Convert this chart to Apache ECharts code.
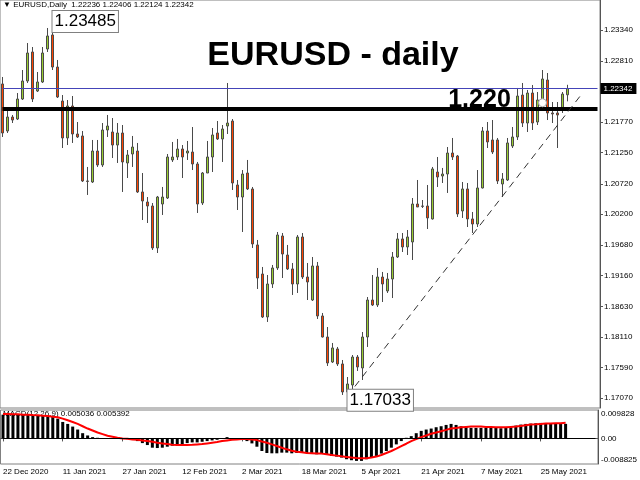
<!DOCTYPE html>
<html>
<head>
<meta charset="utf-8">
<style>html,body{margin:0;padding:0;background:#fff}#c{width:640px;height:480px}</style>
<script src="https://cdn.jsdelivr.net/npm/echarts@6/dist/echarts.min.js"></script>
</head>
<body>
<div id="c"></div>
<script>
// ---- data ----
const opens = [
1.22420,1.21619,1.21857,1.21823,1.22164,1.22471,1.22965,1.22300,1.22454,1.23016,
1.23255,1.22709,1.22130,1.21500,1.22045,1.21568,1.21534,1.20767,1.20750,1.21278,
1.21040,1.21636,1.21602,1.21380,1.21585,1.21074,1.21227,1.21278,1.20580,1.20409,
1.20341,1.19626,1.20375,1.20477,1.21125,1.21176,1.21312,1.21244,1.21261,1.21057,
1.20392,1.20903,1.21176,1.21585,1.21483,1.21704,1.21789,1.20699,1.20494,1.20903,
1.20631,1.19677,1.19182,1.18450,1.19012,1.19285,1.19830,1.19506,1.19268,1.19012,
1.19813,1.19131,1.18739,1.19319,1.18467,1.18109,1.17683,1.17905,1.17649,1.17172,
1.17291,1.17768,1.17581,1.18109,1.18739,1.18654,1.19131,1.18893,1.19097,1.19472,
1.19779,1.19643,1.19728,1.20375,1.20341,1.20341,1.20120,1.20920,1.20852,1.20886,
1.21244,1.21193,1.20256,1.20631,1.20120,1.20034,1.20648,1.21619,1.21466,1.21466,
1.20716,1.20784,1.21363,1.21517,1.22232,1.21755,1.22266,1.21772,1.22147,1.22488,
1.21926,1.21926,1.21977,1.22236];
const closes = [
1.21585,1.21857,1.21806,1.22164,1.22471,1.22948,1.22164,1.22454,1.22948,1.23238,
1.22709,1.22198,1.21500,1.22045,1.21568,1.21517,1.20767,1.20760,1.21278,1.21040,
1.21636,1.21704,1.21380,1.21585,1.21091,1.21210,1.21346,1.20580,1.20426,1.20341,
1.19626,1.20494,1.20494,1.21176,1.21176,1.21312,1.21176,1.21278,1.21057,1.20375,
1.20903,1.21176,1.21551,1.21483,1.21653,1.21755,1.20733,1.20494,1.20886,1.20631,
1.19694,1.19114,1.18450,1.19012,1.19285,1.19847,1.19523,1.19268,1.19012,1.19813,
1.19131,1.19046,1.19319,1.18467,1.18109,1.17666,1.17922,1.17649,1.17172,1.17308,
1.17768,1.17598,1.18109,1.18739,1.18654,1.19131,1.19012,1.19097,1.19472,1.19779,
1.19643,1.19813,1.20375,1.20324,1.20335,1.20137,1.20972,1.20835,1.20886,1.21244,
1.21176,1.20205,1.20631,1.20120,1.20034,1.20648,1.21619,1.21432,1.21261,1.20767,
1.20801,1.21415,1.21517,1.22215,1.21755,1.22266,1.21755,1.22147,1.22505,1.21926,
1.21909,1.21892,1.22249,1.22342];
const highs = [
1.22539,1.21977,1.21892,1.22266,1.22658,1.23118,1.23050,1.22624,1.23050,1.23374,
1.23485,1.22829,1.22232,1.22147,1.22215,1.21772,1.21619,1.21006,1.21466,1.21466,
1.21755,1.21892,1.21840,1.21755,1.21721,1.21295,1.21534,1.21415,1.20903,1.20494,
1.20392,1.20512,1.20665,1.21227,1.21432,1.21483,1.21380,1.21449,1.21687,1.21091,
1.20920,1.21449,1.21670,1.21789,1.21721,1.22437,1.21823,1.20784,1.20954,1.21125,
1.20665,1.19762,1.19302,1.19165,1.19336,1.19898,1.19881,1.19677,1.19370,1.19847,
1.19881,1.19370,1.19472,1.19387,1.18518,1.18279,1.18007,1.17939,1.17717,1.17427,
1.17802,1.17802,1.18194,1.18790,1.19165,1.19285,1.19217,1.19200,1.19557,1.19881,
1.19881,1.19932,1.20477,1.20784,1.20443,1.20699,1.21006,1.21176,1.20989,1.21346,
1.21500,1.21210,1.20750,1.20733,1.20239,1.20954,1.21687,1.21772,1.21806,1.21500,
1.20903,1.21500,1.21687,1.22352,1.22437,1.22318,1.22403,1.22283,1.22658,1.22607,
1.22113,1.22113,1.22283,1.22406];
const lows = [
1.21517,1.21585,1.21755,1.21806,1.22147,1.22437,1.22113,1.22283,1.22437,1.22965,
1.22658,1.22181,1.21329,1.21380,1.21415,1.21500,1.20750,1.20529,1.20733,1.21006,
1.21006,1.21517,1.21159,1.21074,1.20580,1.20818,1.21006,1.20563,1.20102,1.20051,
1.19591,1.19540,1.20188,1.20460,1.21091,1.21125,1.20818,1.21125,1.20954,1.20222,
1.20358,1.20903,1.20920,1.21466,1.21091,1.21568,1.20614,1.20273,1.19898,1.20614,
1.19626,1.18927,1.18433,1.18365,1.18944,1.19251,1.19114,1.19251,1.18825,1.18859,
1.19097,1.18739,1.18722,1.18416,1.18100,1.17615,1.17666,1.17615,1.17121,1.17033,
1.17155,1.17530,1.17376,1.17939,1.18637,1.18620,1.18705,1.18859,1.18773,1.19455,
1.19557,1.19506,1.19421,1.20324,1.20307,1.19949,1.20110,1.20665,1.20733,1.20563,
1.21125,1.20154,1.20137,1.19983,1.19881,1.19983,1.20640,1.21329,1.21227,1.20716,
1.20494,1.20767,1.21329,1.21466,1.21687,1.21602,1.21636,1.21721,1.22113,1.21806,
1.21755,1.21329,1.21926,1.22124];
const macdMain = [
0.00821,0.00821,0.00809,0.00809,0.00809,0.00821,0.00809,0.00798,0.00787,0.00787,
0.00764,0.00684,0.00570,0.00502,0.00410,0.00308,0.00182,0.00103,0.00046,0.00023,
0.00011,0.00011,0.00011,-0.00005,-0.00011,-0.00023,-0.00046,-0.00091,-0.00160,-0.00228,
-0.00319,-0.00331,-0.00319,-0.00285,-0.00251,-0.00217,-0.00194,-0.00160,-0.00137,-0.00137,
-0.00114,-0.00091,-0.00068,-0.00046,-0.00011,0.00046,0.00011,-0.00023,-0.00046,-0.00091,
-0.00171,-0.00285,-0.00433,-0.00502,-0.00513,-0.00513,-0.00490,-0.00490,-0.00513,-0.00502,
-0.00490,-0.00502,-0.00524,-0.00547,-0.00524,-0.00547,-0.00604,-0.00627,-0.00661,-0.00718,
-0.00752,-0.00775,-0.00775,-0.00718,-0.00661,-0.00604,-0.00524,-0.00433,-0.00319,-0.00205,
-0.00091,0.00023,0.00080,0.00182,0.00262,0.00308,0.00342,0.00388,0.00422,0.00467,
0.00502,0.00467,0.00422,0.00388,0.00365,0.00365,0.00365,0.00365,0.00365,0.00365,
0.00353,0.00365,0.00388,0.00445,0.00479,0.00502,0.00513,0.00524,0.00536,0.00524,
0.00513,0.00502,0.00502,0.005036];
const macdSignal = [
0.00844,0.00844,0.00832,0.00832,0.00821,0.00821,0.00809,0.00798,0.00787,0.00775,
0.00753,0.00730,0.00684,0.00627,0.00570,0.00502,0.00422,0.00342,0.00274,0.00205,
0.00148,0.00091,0.00057,0.00023,0.00000,-0.00011,-0.00034,-0.00046,-0.00068,-0.00091,
-0.00114,-0.00148,-0.00171,-0.00194,-0.00217,-0.00228,-0.00228,-0.00228,-0.00217,-0.00205,
-0.00194,-0.00171,-0.00148,-0.00125,-0.00091,-0.00068,-0.00046,-0.00034,-0.00023,-0.00023,
-0.00034,-0.00057,-0.00103,-0.00148,-0.00205,-0.00262,-0.00319,-0.00376,-0.00422,-0.00456,
-0.00479,-0.00502,-0.00513,-0.00524,-0.00524,-0.00547,-0.00570,-0.00593,-0.00616,-0.00638,
-0.00661,-0.00673,-0.00684,-0.00684,-0.00661,-0.00627,-0.00570,-0.00502,-0.00433,-0.00353,
-0.00262,-0.00182,-0.00091,-0.00023,0.00046,0.00103,0.00160,0.00205,0.00251,0.00296,
0.00342,0.00365,0.00388,0.00399,0.00410,0.00410,0.00410,0.00399,0.00399,0.00388,
0.00388,0.00388,0.00399,0.00410,0.00433,0.00456,0.00479,0.00490,0.00502,0.00513,
0.00513,0.00524,0.00524,0.005392];
const priceTicks = [1.23340,1.22810,1.22280,1.21770,1.21250,1.20720,1.20200,1.19680,1.19160,1.18630,1.18110,1.17590,1.17070];
const macdTicks = [-0.008825, 0, 0.009828];
const supportLevel = 1.2200;
const currentPrice = 1.22342;
const trendLine = [[69, 1.17104], [116, 1.22266]];
const highMark = [10, 1.23485];
const lowMark = [69, 1.17033];
const headerText = '\u25BC EURUSD,Daily  1.22236 1.22406 1.22124 1.22342';
const macdText = 'MACD(12,26,9) 0.005036 0.005392';
const totalSlots = 120;

// trading-day categories (weekends and 25 Dec / 1 Jan skipped)
const MON = ['Jan','Feb','Mar','Apr','May','Jun','Jul','Aug','Sep','Oct','Nov','Dec'];
const categories = [];
{
  let t = Date.UTC(2020, 11, 22);
  while (categories.length < totalSlots) {
    const d = new Date(t);
    const wd = d.getUTCDay(), m = d.getUTCMonth(), dd = d.getUTCDate();
    if (wd !== 0 && wd !== 6 && !(m === 11 && dd === 25) && !(m === 0 && dd === 1)) {
      categories.push(dd + ' ' + MON[m] + ' ' + d.getUTCFullYear());
    }
    t += 86400000;
  }
}
const candleData = opens.map((o, i) => [o, closes[i], lows[i], highs[i]]);
const lastSlot = totalSlots - 1;

const FF = 'Liberation Sans, Arial, sans-serif';
const chart = echarts.init(document.getElementById('c'), null, {renderer: 'canvas'});
const boxLabel = {
  show: true, position: 'right', distance: 0, fontSize: 17, lineHeight: 20,
  fontFamily: FF, color: '#000', backgroundColor: '#fff', borderColor: '#808080',
  borderWidth: 1, padding: [1, 2, 0, 2]
};
chart.setOption({
  animation: false,
  backgroundColor: '#fff',
  title: [
    {text: headerText, left: 3, top: 1, padding: 0,
     textStyle: {fontSize: 8, fontWeight: 'normal', fontFamily: FF, color: '#000'}},
    {text: 'EURUSD - daily', left: 333, textAlign: 'center', top: 39, padding: 0,
     textStyle: {fontSize: 34, fontWeight: 'bold', fontFamily: FF, color: '#000'}},
    {text: macdText, left: 3, top: 410, padding: 0, z: 0,
     textStyle: {fontSize: 8, fontWeight: 'normal', fontFamily: FF, color: '#000'}}
  ],
  grid: [
    {left: 0, top: 0, width: 600, height: 408, show: true, borderColor: '#808080', borderWidth: 1},
    {left: 0, top: 410, width: 600, height: 54, show: true, borderColor: '#808080', borderWidth: 1}
  ],
  xAxis: [
    {type: 'category', gridIndex: 0, data: categories, boundaryGap: true,
     axisLine: {show: false}, axisTick: {show: false}, axisLabel: {show: false}, splitLine: {show: false}},
    {type: 'category', gridIndex: 1, data: categories, boundaryGap: true,
     axisLine: {show: true, lineStyle: {color: '#555'}},
     axisTick: {show: true, alignWithLabel: true, interval: 11, length: 3, lineStyle: {color: '#555'}},
     axisLabel: {show: true, interval: 11, align: 'left', fontSize: 8, fontFamily: FF, color: '#000', margin: 4},
     splitLine: {show: false}}
  ],
  yAxis: [
    {type: 'value', gridIndex: 0, position: 'right', min: 1.16899, max: 1.23851,
     splitLine: {show: false},
     axisLine: {show: true, lineStyle: {color: '#555'}},
     axisTick: {show: true, length: 3, customValues: priceTicks, lineStyle: {color: '#555'}},
     axisLabel: {show: true, customValues: priceTicks, fontSize: 8, fontFamily: FF, color: '#000', margin: 4,
       formatter: v => v.toFixed(5)}},
    {type: 'value', gridIndex: 1, position: 'right', min: -0.008825, max: 0.009828,
     splitLine: {show: false},
     axisLine: {show: true, lineStyle: {color: '#555'}},
     axisTick: {show: false},
     axisLabel: {show: true, customValues: macdTicks, fontSize: 8, fontFamily: FF, color: '#000', margin: 3,
       verticalAlignMaxLabel: 'top', verticalAlignMinLabel: 'bottom',
       formatter: v => (v === 0 ? '0.00' : v.toFixed(6))}}
  ],
  series: [
    {type: 'candlestick', xAxisIndex: 0, yAxisIndex: 0, data: candleData, barWidth: 3, clip: false,
     itemStyle: {color: '#9acd32', color0: '#ff4500', borderColor: '#4a4a4a', borderColor0: '#4a4a4a', borderWidth: 1},
     markLine: {
       silent: true, symbol: ['none', 'none'], animation: false,
       data: [
         [{coord: [0, supportLevel], lineStyle: {color: '#000', width: 4, type: 'solid'}, label: {show: false}},
          {coord: [lastSlot, supportLevel]}],
         [{coord: [0, currentPrice], lineStyle: {color: '#4444b8', width: 1, type: 'solid'},
           label: {show: true, position: 'end', distance: 3, formatter: '1.22342', fontSize: 8, fontFamily: FF,
                   color: '#fff', backgroundColor: '#000', padding: [2, 4, 1, 3]}},
          {coord: [lastSlot, currentPrice]}],
         [{coord: trendLine[0], lineStyle: {color: '#333', width: 1, type: [7, 5]}, label: {show: false}},
          {coord: trendLine[1]}]
       ]
     },
     markPoint: {
       silent: true, symbol: 'circle', symbolSize: 0, animation: false,
       data: [
         {coord: highMark, label: Object.assign({}, boxLabel, {formatter: '1.23485'})},
         {coord: lowMark, label: Object.assign({}, boxLabel, {formatter: '1.17033'})},
         {coord: [95, supportLevel], label: {show: true, position: 'top', distance: 0, offset: [2, 4],
            formatter: '1.220', fontSize: 25, fontWeight: 'bold', fontFamily: FF, color: '#000'}},
         {coord: [108, 1.2210], symbol: 'circle', symbolSize: 8,
          itemStyle: {color: '#fff', borderColor: '#aaa', borderWidth: 1}, label: {show: false}}
       ]
     }
    },
    {type: 'bar', xAxisIndex: 1, yAxisIndex: 1, data: macdMain, barWidth: 3, z: 2,
     itemStyle: {color: '#000'},
     markLine: {silent: true, symbol: ['none', 'none'], animation: false,
       data: [[{coord: [0, 0], lineStyle: {color: '#000', width: 1, type: 'solid'}, label: {show: false}},
               {coord: [lastSlot, 0]}]]}},
    {type: 'line', xAxisIndex: 1, yAxisIndex: 1, data: macdSignal, symbol: 'none', z: 3,
     lineStyle: {color: '#ff0000', width: 2}}
  ]
});
</script>
</body>
</html>
